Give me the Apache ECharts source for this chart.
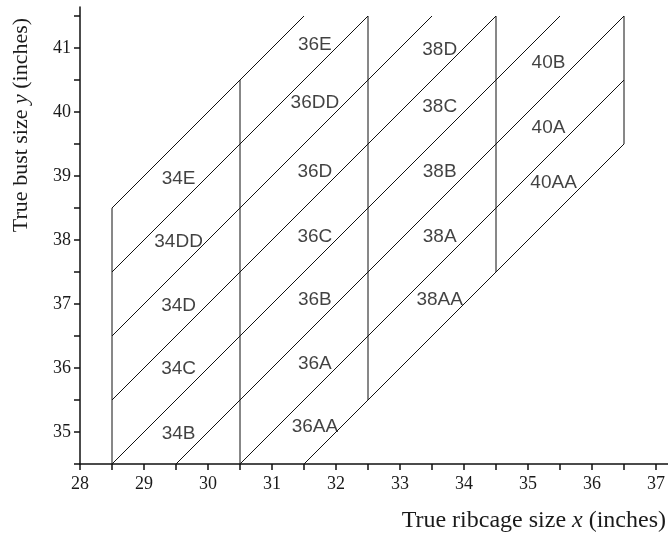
<!DOCTYPE html>
<html>
<head>
<meta charset="utf-8">
<script src="https://cdn.jsdelivr.net/npm/echarts@6/dist/echarts.min.js"></script>
<style>html,body{margin:0;padding:0;background:#fff;}#c{width:668px;height:536px;}</style>
</head>
<body>
<div id="c"></div>
<script>
// Vertical boundaries: [x, yStart, yEnd]
const verticals = [
  [28.5, 34.5, 38.5],
  [30.5, 34.5, 40.5],
  [32.5, 35.5, 41.5],
  [34.5, 37.5, 41.5],
  [36.5, 39.5, 41.5]
];
// Diagonal boundaries: [x0, y0, x1, y1]
const diagonals = [
  [28.5, 38.5, 31.5, 41.5],
  [28.5, 37.5, 32.5, 41.5],
  [28.5, 36.5, 33.5, 41.5],
  [28.5, 35.5, 34.5, 41.5],
  [28.5, 34.5, 35.5, 41.5],
  [29.5, 34.5, 36.5, 41.5],
  [30.5, 34.5, 36.5, 40.5],
  [31.5, 34.5, 36.5, 39.5]
];
// Size labels: [x, y, text]
const sizeLabels = [
  [29.54, 34.98, '34B'], [29.54, 35.99, '34C'], [29.54, 36.97, '34D'], [29.54, 37.97, '34DD'], [29.54, 38.96, '34E'],
  [31.67, 35.08, '36AA'], [31.67, 36.06, '36A'], [31.67, 37.06, '36B'], [31.67, 38.05, '36C'], [31.67, 39.07, '36D'], [31.67, 40.14, '36DD'], [31.67, 41.05, '36E'],
  [33.62, 37.06, '38AA'], [33.62, 38.05, '38A'], [33.62, 39.07, '38B'], [33.62, 40.08, '38C'], [33.62, 40.97, '38D'],
  [35.40, 38.89, '40AA'], [35.32, 39.76, '40A'], [35.32, 40.77, '40B']
];
const xTickLabels = [28, 29, 30, 31, 32, 33, 34, 35, 36, 37];
const xTicks = [28, 28.5, 29, 29.5, 30, 30.5, 31, 31.5, 32, 32.5, 33, 33.5, 34, 34.5, 35, 35.5, 36, 36.5, 37];
const yTickLabels = [35, 36, 37, 38, 39, 40, 41];
const yTicks = [34.5, 35, 35.5, 36, 36.5, 37, 37.5, 38, 38.5, 39, 39.5, 40, 40.5, 41, 41.5];

const lineColor = '#111';
const series = [];
verticals.forEach(v => {
  series.push({type: 'line', data: [[v[0], v[1]], [v[0], v[2]]], showSymbol: false, silent: true,
    lineStyle: {color: lineColor, width: 1}});
});
diagonals.forEach(d => {
  series.push({type: 'line', data: [[d[0], d[1]], [d[2], d[3]]], showSymbol: false, silent: true,
    lineStyle: {color: lineColor, width: 1}});
});
series.push({
  type: 'scatter', symbolSize: 0, silent: true,
  data: sizeLabels.map(l => ({value: [l[0], l[1]], name: l[2]})),
  label: {show: true, position: 'inside', formatter: p => p.name, color: '#111',
    fontFamily: 'Liberation Sans, Arial, sans-serif', fontSize: 19}
});

const axisCommon = {
  type: 'value',
  interval: 0.5,
  splitLine: {show: false},
  axisLine: {show: true, onZero: false, lineStyle: {color: '#111', width: 1.5}},
  axisTick: {show: true, inside: false, length: 6, lineStyle: {color: '#111', width: 1.5}},
};

const chart = echarts.init(document.getElementById('c'), null, {renderer: 'canvas'});
chart.setOption({
  animation: false,
  backgroundColor: '#fff',
  grid: {left: 80, right: 0, top: 7, bottom: 72, containLabel: false},
  xAxis: Object.assign({}, axisCommon, {
    min: 28, max: 37.1875,
    axisTick: Object.assign({}, axisCommon.axisTick, {customValues: xTicks}),
    axisLabel: {customValues: xTickLabels, margin: 11, color: '#1a1a1a',
      fontFamily: 'Liberation Serif, Times New Roman, serif', fontSize: 18}
  }),
  yAxis: Object.assign({}, axisCommon, {
    min: 34.5, max: 41.640625,
    axisTick: Object.assign({}, axisCommon.axisTick, {customValues: yTicks}),
    axisLabel: {customValues: yTickLabels, margin: 9, color: '#1a1a1a',
      fontFamily: 'Liberation Serif, Times New Roman, serif', fontSize: 18}
  }),
  graphic: [
    {type: 'text', right: 2, top: 509, style: {
      text: 'True ribcage size {i|x} (inches)', fill: '#1a1a1a',
      font: '24px "Liberation Serif", "Times New Roman", serif',
      rich: {i: {fontStyle: 'italic', fontFamily: 'Liberation Serif', fontSize: 24, fill: '#1a1a1a'}}
    }},
    {type: 'text', x: 21, y: 125, rotation: Math.PI / 2, style: {
      text: 'True bust size {i|y} (inches)', fill: '#1a1a1a', align: 'center', verticalAlign: 'middle',
      font: '22px "Liberation Serif", "Times New Roman", serif',
      rich: {i: {fontStyle: 'italic', fontFamily: 'Liberation Serif', fontSize: 22, fill: '#1a1a1a'}}
    }}
  ],
  series: series
});
</script>
</body>
</html>
